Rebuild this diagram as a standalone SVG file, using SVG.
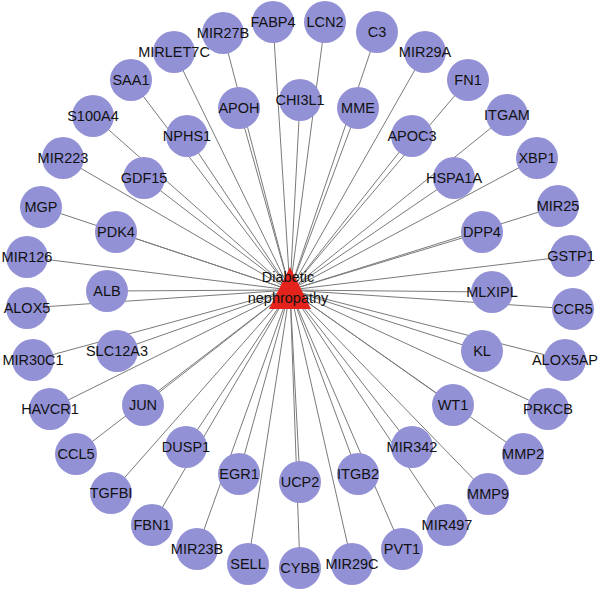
<svg xmlns="http://www.w3.org/2000/svg" width="600" height="592" viewBox="0 0 600 592">
<style>
.e{stroke:#7a7a7a;stroke-width:1}
.n circle{fill:#9391d6}
text{font-family:"Liberation Sans",Arial,sans-serif;font-size:14.5px;fill:#111;text-anchor:middle}
</style>
<rect width="600" height="592" fill="#fff"/>
<g id="edges">
<line class="e" x1="273" y1="22" x2="290" y2="290"/>
<line class="e" x1="325" y1="22" x2="290" y2="290"/>
<line class="e" x1="377" y1="32" x2="290" y2="290"/>
<line class="e" x1="425" y1="52" x2="290" y2="290"/>
<line class="e" x1="468" y1="80" x2="290" y2="290"/>
<line class="e" x1="507" y1="115" x2="290" y2="290"/>
<line class="e" x1="537" y1="158" x2="290" y2="290"/>
<line class="e" x1="558" y1="206" x2="290" y2="290"/>
<line class="e" x1="571" y1="256" x2="290" y2="290"/>
<line class="e" x1="573" y1="309" x2="290" y2="290"/>
<line class="e" x1="565" y1="360" x2="290" y2="290"/>
<line class="e" x1="548" y1="409" x2="290" y2="290"/>
<line class="e" x1="523" y1="454" x2="290" y2="290"/>
<line class="e" x1="488" y1="494" x2="290" y2="290"/>
<line class="e" x1="447" y1="525" x2="290" y2="290"/>
<line class="e" x1="402" y1="549" x2="290" y2="290"/>
<line class="e" x1="352" y1="564" x2="290" y2="290"/>
<line class="e" x1="300" y1="568" x2="290" y2="290"/>
<line class="e" x1="248" y1="564" x2="290" y2="290"/>
<line class="e" x1="197" y1="549" x2="290" y2="290"/>
<line class="e" x1="152" y1="525" x2="290" y2="290"/>
<line class="e" x1="111" y1="493" x2="290" y2="290"/>
<line class="e" x1="76" y1="454" x2="290" y2="290"/>
<line class="e" x1="50" y1="409" x2="290" y2="290"/>
<line class="e" x1="33" y1="360" x2="290" y2="290"/>
<line class="e" x1="27" y1="308" x2="290" y2="290"/>
<line class="e" x1="27" y1="257" x2="290" y2="290"/>
<line class="e" x1="41" y1="207" x2="290" y2="290"/>
<line class="e" x1="63" y1="158" x2="290" y2="290"/>
<line class="e" x1="93" y1="116" x2="290" y2="290"/>
<line class="e" x1="131" y1="80" x2="290" y2="290"/>
<line class="e" x1="174" y1="52" x2="290" y2="290"/>
<line class="e" x1="223" y1="33" x2="290" y2="290"/>
<line class="e" x1="300" y1="100" x2="290" y2="290"/>
<line class="e" x1="358" y1="108" x2="290" y2="290"/>
<line class="e" x1="412" y1="136" x2="290" y2="290"/>
<line class="e" x1="454" y1="178" x2="290" y2="290"/>
<line class="e" x1="482" y1="232" x2="290" y2="290"/>
<line class="e" x1="492" y1="292" x2="290" y2="290"/>
<line class="e" x1="482" y1="351" x2="290" y2="290"/>
<line class="e" x1="453" y1="405" x2="290" y2="290"/>
<line class="e" x1="412" y1="447" x2="290" y2="290"/>
<line class="e" x1="358" y1="474" x2="290" y2="290"/>
<line class="e" x1="300" y1="482" x2="290" y2="290"/>
<line class="e" x1="239" y1="474" x2="290" y2="290"/>
<line class="e" x1="186" y1="447" x2="290" y2="290"/>
<line class="e" x1="143" y1="405" x2="290" y2="290"/>
<line class="e" x1="117" y1="351" x2="290" y2="290"/>
<line class="e" x1="107" y1="291" x2="290" y2="290"/>
<line class="e" x1="116" y1="232" x2="290" y2="290"/>
<line class="e" x1="144" y1="178" x2="290" y2="290"/>
<line class="e" x1="187" y1="136" x2="290" y2="290"/>
<line class="e" x1="239" y1="108" x2="290" y2="290"/>
</g>
<g id="FABP4" class="n"><circle cx="273" cy="22" r="21"/><text x="273" y="27">FABP4</text></g>
<g id="LCN2" class="n"><circle cx="325" cy="22" r="21"/><text x="325" y="27">LCN2</text></g>
<g id="C3" class="n"><circle cx="377" cy="32" r="21"/><text x="377" y="37">C3</text></g>
<g id="MIR29A" class="n"><circle cx="425" cy="52" r="21"/><text x="425" y="57">MIR29A</text></g>
<g id="FN1" class="n"><circle cx="468" cy="80" r="21"/><text x="468" y="85">FN1</text></g>
<g id="ITGAM" class="n"><circle cx="507" cy="115" r="21"/><text x="507" y="120">ITGAM</text></g>
<g id="XBP1" class="n"><circle cx="537" cy="158" r="21"/><text x="537" y="163">XBP1</text></g>
<g id="MIR25" class="n"><circle cx="558" cy="206" r="21"/><text x="558" y="211">MIR25</text></g>
<g id="GSTP1" class="n"><circle cx="571" cy="256" r="21"/><text x="571" y="261">GSTP1</text></g>
<g id="CCR5" class="n"><circle cx="573" cy="309" r="21"/><text x="573" y="314">CCR5</text></g>
<g id="ALOX5AP" class="n"><circle cx="565" cy="360" r="21"/><text x="565" y="365">ALOX5AP</text></g>
<g id="PRKCB" class="n"><circle cx="548" cy="409" r="21"/><text x="548" y="414">PRKCB</text></g>
<g id="MMP2" class="n"><circle cx="523" cy="454" r="21"/><text x="523" y="459">MMP2</text></g>
<g id="MMP9" class="n"><circle cx="488" cy="494" r="21"/><text x="488" y="499">MMP9</text></g>
<g id="MIR497" class="n"><circle cx="447" cy="525" r="21"/><text x="447" y="530">MIR497</text></g>
<g id="PVT1" class="n"><circle cx="402" cy="549" r="21"/><text x="402" y="554">PVT1</text></g>
<g id="MIR29C" class="n"><circle cx="352" cy="564" r="21"/><text x="352" y="569">MIR29C</text></g>
<g id="CYBB" class="n"><circle cx="300" cy="568" r="21"/><text x="300" y="573">CYBB</text></g>
<g id="SELL" class="n"><circle cx="248" cy="564" r="21"/><text x="248" y="569">SELL</text></g>
<g id="MIR23B" class="n"><circle cx="197" cy="549" r="21"/><text x="197" y="554">MIR23B</text></g>
<g id="FBN1" class="n"><circle cx="152" cy="525" r="21"/><text x="152" y="530">FBN1</text></g>
<g id="TGFBI" class="n"><circle cx="111" cy="493" r="21"/><text x="111" y="498">TGFBI</text></g>
<g id="CCL5" class="n"><circle cx="76" cy="454" r="21"/><text x="76" y="459">CCL5</text></g>
<g id="HAVCR1" class="n"><circle cx="50" cy="409" r="21"/><text x="50" y="414">HAVCR1</text></g>
<g id="MIR30C1" class="n"><circle cx="33" cy="360" r="21"/><text x="33" y="365">MIR30C1</text></g>
<g id="ALOX5" class="n"><circle cx="27" cy="308" r="21"/><text x="27" y="313">ALOX5</text></g>
<g id="MIR126" class="n"><circle cx="27" cy="257" r="21"/><text x="27" y="262">MIR126</text></g>
<g id="MGP" class="n"><circle cx="41" cy="207" r="21"/><text x="41" y="212">MGP</text></g>
<g id="MIR223" class="n"><circle cx="63" cy="158" r="21"/><text x="63" y="163">MIR223</text></g>
<g id="S100A4" class="n"><circle cx="93" cy="116" r="21"/><text x="93" y="121">S100A4</text></g>
<g id="SAA1" class="n"><circle cx="131" cy="80" r="21"/><text x="131" y="85">SAA1</text></g>
<g id="MIRLET7C" class="n"><circle cx="174" cy="52" r="21"/><text x="174" y="57">MIRLET7C</text></g>
<g id="MIR27B" class="n"><circle cx="223" cy="33" r="21"/><text x="223" y="38">MIR27B</text></g>
<g id="CHI3L1" class="n"><circle cx="300" cy="100" r="21"/><text x="300" y="105">CHI3L1</text></g>
<g id="MME" class="n"><circle cx="358" cy="108" r="21"/><text x="358" y="113">MME</text></g>
<g id="APOC3" class="n"><circle cx="412" cy="136" r="21"/><text x="412" y="141">APOC3</text></g>
<g id="HSPA1A" class="n"><circle cx="454" cy="178" r="21"/><text x="454" y="183">HSPA1A</text></g>
<g id="DPP4" class="n"><circle cx="482" cy="232" r="21"/><text x="482" y="237">DPP4</text></g>
<g id="MLXIPL" class="n"><circle cx="492" cy="292" r="21"/><text x="492" y="297">MLXIPL</text></g>
<g id="KL" class="n"><circle cx="482" cy="351" r="21"/><text x="482" y="356">KL</text></g>
<g id="WT1" class="n"><circle cx="453" cy="405" r="21"/><text x="453" y="410">WT1</text></g>
<g id="MIR342" class="n"><circle cx="412" cy="447" r="21"/><text x="412" y="452">MIR342</text></g>
<g id="ITGB2" class="n"><circle cx="358" cy="474" r="21"/><text x="358" y="479">ITGB2</text></g>
<g id="UCP2" class="n"><circle cx="300" cy="482" r="21"/><text x="300" y="487">UCP2</text></g>
<g id="EGR1" class="n"><circle cx="239" cy="474" r="21"/><text x="239" y="479">EGR1</text></g>
<g id="DUSP1" class="n"><circle cx="186" cy="447" r="21"/><text x="186" y="452">DUSP1</text></g>
<g id="JUN" class="n"><circle cx="143" cy="405" r="21"/><text x="143" y="410">JUN</text></g>
<g id="SLC12A3" class="n"><circle cx="117" cy="351" r="21"/><text x="117" y="356">SLC12A3</text></g>
<g id="ALB" class="n"><circle cx="107" cy="291" r="21"/><text x="107" y="296">ALB</text></g>
<g id="PDK4" class="n"><circle cx="116" cy="232" r="21"/><text x="116" y="237">PDK4</text></g>
<g id="GDF15" class="n"><circle cx="144" cy="178" r="21"/><text x="144" y="183">GDF15</text></g>
<g id="NPHS1" class="n"><circle cx="187" cy="136" r="21"/><text x="187" y="141">NPHS1</text></g>
<g id="APOH" class="n"><circle cx="239" cy="108" r="21"/><text x="239" y="113">APOH</text></g>
<g id="DiabeticNephropathy">
<polygon points="290,267 269,309 311,309" fill="#e3231c"/>
<text x="288" y="282">Diabetic</text>
<text x="288" y="303">nephropathy</text>
</g>
</svg>
